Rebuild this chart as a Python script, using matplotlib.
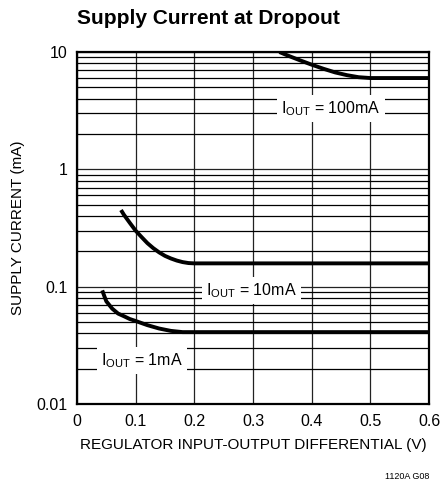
import matplotlib
matplotlib.use("Agg")
import matplotlib.pyplot as plt
import numpy as np

plt.rcParams['font.family'] = ['Liberation Sans Narrow', 'Liberation Sans', 'DejaVu Sans']

# Data
x_100 = [0.345, 0.36, 0.38, 0.40, 0.42, 0.44, 0.46, 0.48, 0.50, 0.55, 0.60]
y_100 = [10.0, 9.3, 8.5, 7.8, 7.2, 6.7, 6.35, 6.1, 6.0, 6.0, 6.0]
x_10 = [0.075, 0.08, 0.09, 0.10, 0.11, 0.12, 0.13, 0.14, 0.15, 0.16, 0.17, 0.18, 0.19, 0.20, 0.30, 0.40, 0.50, 0.60]
y_10 = [0.45, 0.41, 0.35, 0.30, 0.265, 0.235, 0.213, 0.196, 0.183, 0.174, 0.167, 0.162, 0.159, 0.158, 0.158, 0.158, 0.158, 0.158]
x_1 = [0.043, 0.047, 0.05, 0.06, 0.07, 0.08, 0.09, 0.10, 0.12, 0.14, 0.16, 0.18, 0.20, 0.30, 0.40, 0.50, 0.60]
y_1 = [0.093, 0.082, 0.075, 0.065, 0.059, 0.056, 0.053, 0.051, 0.047, 0.044, 0.042, 0.041, 0.041, 0.041, 0.041, 0.041, 0.041]
labels = ["$\\mathregular{I_{OUT}}$ = 100mA", "$\\mathregular{I_{OUT}}$ = 10mA", "$\\mathregular{I_{OUT}}$ = 1mA"]
label_x = [0.433, 0.298, 0.111]
label_y = [3.3, 0.093, 0.0235]
xticks = [0, 0.1, 0.2, 0.3, 0.4, 0.5, 0.6]
xticklabels = ["0", "0.1", "0.2", "0.3", "0.4", "0.5", "0.6"]
yticks = [0.01, 0.1, 1, 10]
yticklabels = ["0.01", "0.1", "1", "10"]

fig = plt.figure(figsize=(4.4, 4.87), dpi=100)
ax = fig.add_axes([0.175, 0.1704, 0.800, 0.7228])
ax.set_yscale('log')
ax.set_xlim(0, 0.6)
ax.set_ylim(0.01, 10)

ax.set_xticks(xticks)
ax.set_xticklabels(xticklabels)
ax.set_yticks(yticks)
ax.set_yticklabels(yticklabels)
ax.yaxis.set_minor_locator(matplotlib.ticker.LogLocator(base=10, subs=np.arange(2, 10)))
ax.yaxis.set_minor_formatter(matplotlib.ticker.NullFormatter())
ax.tick_params(which='both', length=0, labelsize=11.5, pad=7)
ax.grid(True, which='major', color='#222222', linewidth=0.9)
ax.grid(True, which='minor', axis='y', color='black', linewidth=0.9)
for s in ax.spines.values():
    s.set_linewidth(1.6)
    s.set_color('black')

for xs, ys in [(x_100, y_100), (x_10, y_10), (x_1, y_1)]:
    ax.plot(xs, ys, color='black', linewidth=2.8, solid_capstyle='butt', zorder=3)

for t, lx, ly in zip(labels, label_x, label_y):
    ax.text(lx, ly, t, ha='center', va='center', fontsize=11.5, zorder=4,
            bbox=dict(facecolor='white', edgecolor='none', pad=3))

ax.set_xlabel("REGULATOR INPUT-OUTPUT DIFFERENTIAL (V)", fontsize=11, labelpad=7)
ax.set_ylabel("SUPPLY CURRENT (mA)", fontsize=11, labelpad=8)

fig.text(0.175, 0.963, "Supply Current at Dropout", fontsize=15, fontweight='bold',
         ha='left', va='center')
fig.text(0.975, 0.022, "1120A G08", fontsize=6.5, ha='right', va='center')

fig.savefig("out.png", dpi=100)
